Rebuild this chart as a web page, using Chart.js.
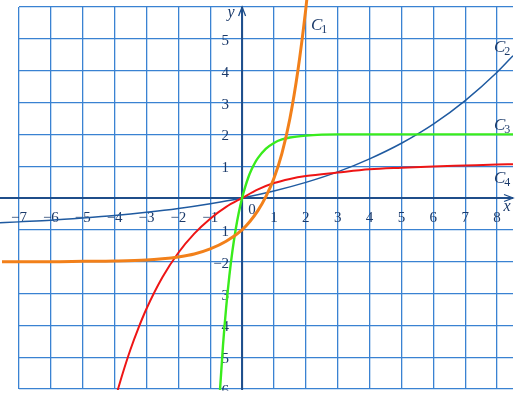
<!DOCTYPE html>
<html>
<head>
<meta charset="utf-8">
<script src="https://cdn.jsdelivr.net/npm/chart.js@4.4.1/dist/chart.umd.min.js"></script>
<style>
html,body{margin:0;padding:0;background:#fff;}
#wrap{width:523px;height:397px;}
canvas{display:block;}
</style>
</head>
<body>
<div id="wrap"><canvas id="c" width="523" height="397"></canvas></div>
<script>
// Axis ticks
const xTicks = [-7,-6,-5,-4,-3,-2,-1,0,1,2,3,4,5,6,7,8];
const yTicks = [-6,-5,-4,-3,-2,-1,0,1,2,3,4,5,6];
const xLabelValues = [-7,-6,-5,-4,-3,-2,-1,1,2,3,4,5,6,7,8];
const xLabelTexts  = ['−7','−6','−5','−4','−3','−2','−1','1','2','3','4','5','6','7','8'];
const yLabelValues = [-6,-5,-4,-3,-2,-1,1,2,3,4,5];
const yLabelTexts  = ['6','5','4','3','−2','1','1','2','3','4','5'];
const curveNames = ['C1','C2','C3','C4'];

// C1 (orange)
const c1X = [-7.6,-6,-5,-4,-3,-2.5,-2,-1.5,-1,-0.5,0,0.25,0.5,0.75,1,1.25,1.5,1.75,2,2.1];
const c1Y = [-2,-2,-1.99,-1.98,-1.95,-1.91,-1.85,-1.76,-1.6,-1.36,-1,-0.73,-0.39,0.05,0.62,1.4,2.5,4.0,5.95,6.9];
// C2 (dark blue)
const c2X = [-7.6,-7,-6,-5,-4,-3,-2,-1,0,1,2,3,4,5,6,7,8,8.5];
const c2Y = [-0.78,-0.75,-0.70,-0.63,-0.55,-0.45,-0.33,-0.18,0,0.22,0.49,0.82,1.23,1.72,2.32,3.06,3.95,4.47];
// C3 (green)
const c3X = [-0.72,-0.6,-0.5,-0.4,-0.3,-0.2,-0.1,0,0.1,0.2,0.3,0.4,0.5,0.75,1,1.25,1.5,2,2.5,3,4,5,6,7,8,8.5];
const c3Y = [-6.44,-4.64,-3.44,-2.45,-1.64,-0.98,-0.44,0,0.36,0.66,0.9,1.1,1.26,1.55,1.73,1.84,1.9,1.96,1.99,2,2,2,2,2,2,2];
// C4 (red)
const c4X = [-3.95,-3.75,-3.5,-3.25,-3,-2.5,-2,-1.5,-1,-0.5,0,0.5,1,1.5,2,3,4,5,6,7,8,8.5];
const c4Y = [-6.2,-5.52,-4.75,-4.08,-3.48,-2.49,-1.72,-1.12,-0.65,-0.28,0,0.27,0.47,0.6,0.69,0.8,0.9,0.95,0.99,1.02,1.05,1.06];

const pts = (xs, ys) => xs.map((x, i) => ({x: x, y: ys[i]}));

const GRID = '#3a82d2';
const AXIS = '#1f4e8a';
const TEXT = '#1b3a6a';

const overlay = {
  id: 'overlay',
  beforeDatasetsDraw(chart) {
    const ctx = chart.ctx, xs = chart.scales.x, ys = chart.scales.y;
    const x0 = xs.getPixelForValue(0), y0 = ys.getPixelForValue(0);
    const top = chart.chartArea.top, bottom = chart.chartArea.bottom, right = chart.chartArea.right;
    ctx.save();
    ctx.beginPath(); ctx.rect(0, 0, 523, 390.5); ctx.clip();
    // axes
    ctx.strokeStyle = AXIS; ctx.lineWidth = 2;
    ctx.beginPath(); ctx.moveTo(0, y0); ctx.lineTo(right, y0); ctx.stroke();
    ctx.beginPath(); ctx.moveTo(x0, bottom + 1); ctx.lineTo(x0, top); ctx.stroke();
    ctx.lineWidth = 1.3;
    ctx.beginPath(); ctx.moveTo(right - 9, y0 - 3.5); ctx.lineTo(right, y0); ctx.lineTo(right - 9, y0 + 3.5); ctx.stroke();
    ctx.beginPath(); ctx.moveTo(x0 - 3.5, top + 9); ctx.lineTo(x0, top); ctx.lineTo(x0 + 3.5, top + 9); ctx.stroke();
    // tick labels
    ctx.fillStyle = TEXT;
    ctx.font = '15px "Liberation Serif", "DejaVu Serif", serif';
    ctx.textAlign = 'center'; ctx.textBaseline = 'alphabetic';
    xLabelValues.forEach((v, i) => {
      ctx.fillText(xLabelTexts[i], xs.getPixelForValue(v), y0 + 24);
    });
    ctx.fillText('0', x0 + 10, y0 + 16);
    ctx.textAlign = 'right';
    yLabelValues.forEach((v, i) => {
      ctx.fillText(yLabelTexts[i], x0 - 13, ys.getPixelForValue(v) + 6);
    });
    // axis titles
    ctx.font = 'italic 16px "Liberation Serif", "DejaVu Serif", serif';
    ctx.textAlign = 'center';
    ctx.fillText('y', x0 - 11, top + 10);
    ctx.fillText('x', right - 6, y0 + 13);
    ctx.restore();
  },
  afterDatasetsDraw(chart) {
    const ctx = chart.ctx;
    ctx.save();
    ctx.fillStyle = TEXT;
    const place = [[311, 30], [494, 52], [494, 130], [494, 183]];
    curveNames.forEach((n, i) => {
      const [px, py] = place[i];
      ctx.font = 'italic 17px "Liberation Serif", "DejaVu Serif", serif';
      ctx.textAlign = 'left'; ctx.textBaseline = 'alphabetic';
      ctx.fillText(n[0], px, py);
      const w = ctx.measureText(n[0]).width;
      ctx.font = '12px "Liberation Serif", "DejaVu Serif", serif';
      ctx.fillText(n.slice(1), px + w - 1, py + 3);
    });
    ctx.restore();
  }
};

const ds = (data, color, width, order, clip) => ({
  data: data, borderColor: color, borderWidth: width, pointRadius: 0,
  fill: false, cubicInterpolationMode: 'monotone', order: order, clip: clip
});

new Chart(document.getElementById('c'), {
  type: 'line',
  data: {
    datasets: [
      ds(pts(c1X, c1Y), '#f2801a', 3, 0, {left: 17, top: 8, right: 0, bottom: 0}),
      ds(pts(c3X, c3Y), '#39ec1c', 2.4, 1, {left: 0, top: 0, right: 0, bottom: 1}),
      ds(pts(c4X, c4Y), '#ee1515', 2, 2, {left: 0, top: 0, right: 0, bottom: 1}),
      ds(pts(c2X, c2Y), '#1f5aa0', 1.5, 3, {left: 20, top: 0, right: 0, bottom: 0})
    ]
  },
  options: {
    responsive: false,
    animation: false,
    events: [],
    layout: {padding: {left: 19, right: 10, top: 7, bottom: 8}},
    plugins: {legend: {display: false}, tooltip: {enabled: false}},
    scales: {
      x: {
        type: 'linear', min: -7, max: 8.5,
        afterBuildTicks: s => { s.ticks = xTicks.map(v => ({value: v})); },
        ticks: {display: false},
        grid: {color: GRID, lineWidth: 1.3, drawTicks: false},
        border: {display: false}
      },
      y: {
        type: 'linear', min: -6, max: 6,
        afterBuildTicks: s => { s.ticks = yTicks.map(v => ({value: v})); },
        ticks: {display: false},
        grid: {color: GRID, lineWidth: 1.3, drawTicks: false},
        border: {display: false}
      }
    }
  },
  plugins: [overlay]
});
</script>
</body>
</html>
